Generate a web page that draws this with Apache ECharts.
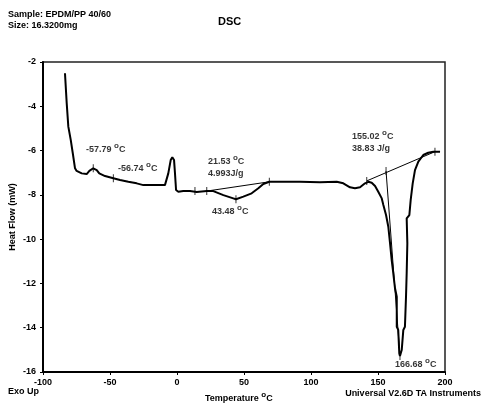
<!DOCTYPE html>
<html><head><meta charset="utf-8">
<script src="https://cdn.jsdelivr.net/npm/echarts@6/dist/echarts.min.js"></script>
<style>html,body{margin:0;padding:0;background:#fff}#c{width:484px;height:404px}</style>
</head><body><div id="c"></div>
<script>
// DSC curve: temperature (°C) and heat flow (mW)
const temperature = [-83.6,-82.3,-81.1,-79.3,-77.8,-76.1,-74.9,-71.1,-67.4,-65.4,-62.5,-59.9,-58.0,-53.7,-47.5,-42.5,-36.3,-30.1,-25.1,-9.0,-7.7,-6.5,-4.7,-3.5,-2.2,-1.5,-0.7,1.0,4.7,9.7,14.7,22.2,27.1,34.6,42.0,44.0,49.5,55.7,60.7,64.4,68.9,91.8,106.7,119.2,124.1,129.1,132.8,136.6,140.3,142.8,145.3,147.8,150.2,152.8,154.0,156.0,157.7,159.0,160.2,161.4,162.7,164.0,164.0,165.1,165.9,166.4,167.7,168.9,170.1,170.9,171.4,171.9,171.4,173.4,174.4,175.9,177.6,180.1,183.8,187.5,191.3,196.3];
const heatFlow = [-2.51,-3.87,-4.92,-5.52,-6.11,-6.80,-6.92,-7.03,-7.06,-6.92,-6.80,-6.88,-7.03,-7.15,-7.25,-7.33,-7.41,-7.48,-7.56,-7.56,-7.48,-7.03,-6.43,-6.30,-6.43,-7.03,-7.78,-7.86,-7.83,-7.83,-7.87,-7.83,-7.83,-8.01,-8.16,-8.20,-8.08,-7.93,-7.70,-7.51,-7.41,-7.41,-7.43,-7.41,-7.48,-7.66,-7.70,-7.66,-7.48,-7.41,-7.45,-7.60,-7.86,-8.16,-8.46,-8.91,-9.44,-10.19,-10.94,-11.54,-12.22,-12.60,-13.96,-14.10,-15.16,-15.28,-15.01,-14.10,-13.96,-12.60,-11.54,-10.19,-9.06,-8.91,-8.23,-7.48,-6.88,-6.50,-6.20,-6.10,-6.05,-6.05];
// analysis construction lines
const baseline1T = [22.2, 68.9];
const baseline1HF = [-7.83, -7.41];
const baseline2T = [141.6, 192.5];
const baseline2HF = [-7.37, -6.05];
const dropLineT = [156.0, 166.4];
const dropLineHF = [-6.92, -15.28];
// analysis cursor marks on the curve
const markT = [-62.5, -47.5, 13.4, 22.2, 44.0, 68.9, 141.6, 156.0, 192.5, 166.4];
const markHF = [-6.80, -7.25, -7.83, -7.83, -8.20, -7.41, -7.37, -6.92, -6.05, -15.28];
// annotation texts and anchor points
const annValue = ['-57.79 ', '-56.74 ', '21.53 ', '43.48 ', '155.02 ', '166.68 '];
const annSecond = ['', '', '4.993J/g', '', '38.83 J/g', ''];
const annT = [-67.9, -44.0, 23.1, 26.1, 130.6, 162.7];
const annHF = [-5.88, -6.74, -6.70, -8.68, -5.55, -15.6];
const xTicks = {min: -100, max: 200, interval: 50};
const yTicks = {min: -16, max: -2, interval: 2};

const FF = '"Liberation Sans", Arial, sans-serif';
const pair = (a, b) => a.map((v, i) => [v, b[i]]);
const rich = {
  a: {fontSize: 9, fontWeight: 'bold', fontFamily: FF, color: '#000', lineHeight: 12, verticalAlign: 'bottom'},
  s: {fontSize: 8, fontWeight: 'bold', fontFamily: FF, color: '#000', lineHeight: 8, verticalAlign: 'top'}
};
const chart = echarts.init(document.getElementById('c'), null, {renderer: 'canvas'});
chart.setOption({
  animation: false,
  backgroundColor: '#fff',
  grid: {left: 43, top: 62, right: 39, bottom: 32, outerBoundsMode: 'none', containLabel: false,
    show: true, borderColor: '#222', borderWidth: 1.5, backgroundColor: 'transparent'},
  xAxis: {
    type: 'value', min: xTicks.min, max: xTicks.max, interval: xTicks.interval,
    axisLine: {show: true, onZero: false, lineStyle: {color: '#000', width: 2}},
    axisTick: {show: true, inside: false, length: 3, lineStyle: {color: '#000', width: 1}}, splitLine: {show: false},
    axisLabel: {fontSize: 9, fontWeight: 'bold', fontFamily: FF, color: '#000', margin: 6}
  },
  yAxis: {
    type: 'value', min: yTicks.min, max: yTicks.max, interval: yTicks.interval,
    name: 'Heat Flow (mW)', nameLocation: 'middle', nameGap: 26, nameMoveOverlap: false,
    nameTextStyle: {fontSize: 9, fontWeight: 'bold', fontFamily: FF, color: '#000'},
    axisLine: {show: true, onZero: false, lineStyle: {color: '#000', width: 2}},
    axisTick: {show: true, inside: false, length: 3, lineStyle: {color: '#000', width: 1}}, splitLine: {show: false},
    axisLabel: {fontSize: 9, fontWeight: 'bold', fontFamily: FF, color: '#000', margin: 7}
  },
  series: [
    {type: 'line', data: pair(baseline1T, baseline1HF), symbol: 'none', lineStyle: {color: '#000', width: 1}, silent: true},
    {type: 'line', data: pair(baseline2T, baseline2HF), symbol: 'none', lineStyle: {color: '#000', width: 1}, silent: true},
    {type: 'line', data: pair(dropLineT, dropLineHF), symbol: 'none', lineStyle: {color: '#000', width: 1}, silent: true},
    {type: 'line', data: pair(temperature, heatFlow), symbol: 'none', lineStyle: {color: '#000', width: 2}, silent: true},
    {type: 'scatter', data: pair(markT, markHF), symbol: 'rect', symbolSize: [1, 8], itemStyle: {color: '#000'}, silent: true},
    {type: 'scatter', data: pair(annT, annHF), symbolSize: 0, silent: true,
      label: {show: true, position: 'right', distance: 0, rich: rich,
        formatter: p => {
          const i = p.dataIndex;
          let s = '{a|' + annValue[i] + '}{s|o}{a|C}';
          if (annSecond[i]) s += '\n{a|' + annSecond[i] + '}';
          return s;
        }}}
  ],
  graphic: [
    {type: 'text', left: 8, top: 9, style: {text: 'Sample: EPDM/PP 40/60\nSize: 16.3200mg', font: 'bold 9px ' + FF, fill: '#000', lineHeight: 11}},
    {type: 'text', left: 218, top: 16, style: {text: 'DSC', font: 'bold 11px ' + FF, fill: '#000'}},
    {type: 'text', left: 8, top: 387, style: {text: 'Exo Up', font: 'bold 9px ' + FF, fill: '#000'}},
    {type: 'text', left: 205, top: 391, style: {text: '{a|Temperature }{s|o}{a|C}', rich: rich}},
    {type: 'text', right: 3, top: 389, style: {text: 'Universal V2.6D TA Instruments', font: 'bold 9px ' + FF, fill: '#000'}}
  ]
});
</script></body></html>
